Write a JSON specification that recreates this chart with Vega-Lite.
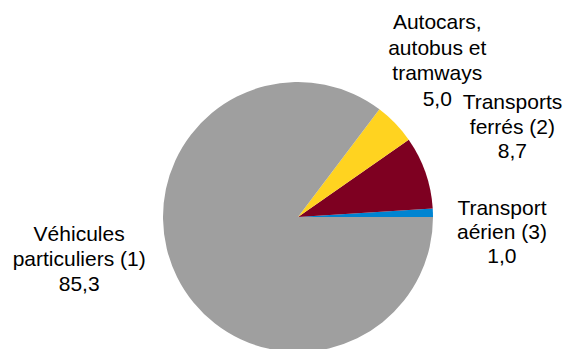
{
  "$schema": "https://vega.github.io/schema/vega-lite/v6.json",
  "width": 532,
  "height": 264,
  "padding": {"left": 32, "top": 85, "right": 0, "bottom": 0},
  "autosize": {"type": "none"},
  "background": "white",
  "config": {"view": {"stroke": null}, "font": "Liberation Sans"},
  "data": {"values": [
    {"cat": "Transport aérien (3)", "ord": 1, "value": 1.0, "label": "Transport\naérien (3)\n1,0"},
    {"cat": "Transports ferrés (2)", "ord": 2, "value": 8.7, "label": "Transports\nferrés (2)\n8,7"},
    {"cat": "Autocars, autobus et tramways", "ord": 3, "value": 5.0, "label": "Autocars,\nautobus et\ntramways\n5,0"},
    {"cat": "Véhicules particuliers (1)", "ord": 4, "value": 85.3, "label": "Véhicules\nparticuliers (1)\n85,3"}
  ]},
  "encoding": {
    "theta": {"field": "value", "type": "quantitative", "stack": true, "scale": {"range": [1.5707963, -4.712389]}},
    "order": {"field": "ord", "type": "quantitative"}
  },
  "layer": [
    {
      "mark": {"type": "arc", "outerRadius": 135},
      "encoding": {
        "color": {"field": "cat", "type": "nominal", "legend": null,
          "scale": {"domain": ["Transport aérien (3)", "Transports ferrés (2)", "Autocars, autobus et tramways", "Véhicules particuliers (1)"],
                    "range": ["#0084d1", "#7e0021", "#ffd320", "#9f9f9f"]}}
      }
    },
    {
      "mark": {"type": "text", "radius": 135, "dx": 69, "dy": -4, "align": "center", "baseline": "middle", "lineBreak": "\n", "fontSize": 21, "lineHeight": 24, "color": "#000000"},
      "encoding": {"text": {"condition": {"test": "datum.ord === 1", "field": "label", "type": "nominal"}, "value": ""}}
    },
    {
      "mark": {"type": "text", "radius": 135, "dx": 87, "dy": -69, "align": "center", "baseline": "middle", "lineBreak": "\n", "fontSize": 21, "lineHeight": 24.5, "color": "#000000"},
      "encoding": {"text": {"condition": {"test": "datum.ord === 2", "field": "label", "type": "nominal"}, "value": ""}}
    },
    {
      "mark": {"type": "text", "radius": 135, "dx": 42, "dy": -100, "align": "center", "baseline": "middle", "lineBreak": "\n", "fontSize": 21, "lineHeight": 25.5, "color": "#000000"},
      "encoding": {"text": {"condition": {"test": "datum.ord === 3", "field": "label", "type": "nominal"}, "value": ""}}
    },
    {
      "mark": {"type": "text", "radius": 135, "dx": -98, "dy": -42, "align": "center", "baseline": "middle", "lineBreak": "\n", "fontSize": 21, "lineHeight": 25, "color": "#000000"},
      "encoding": {"text": {"condition": {"test": "datum.ord === 4", "field": "label", "type": "nominal"}, "value": ""}}
    }
  ]
}
